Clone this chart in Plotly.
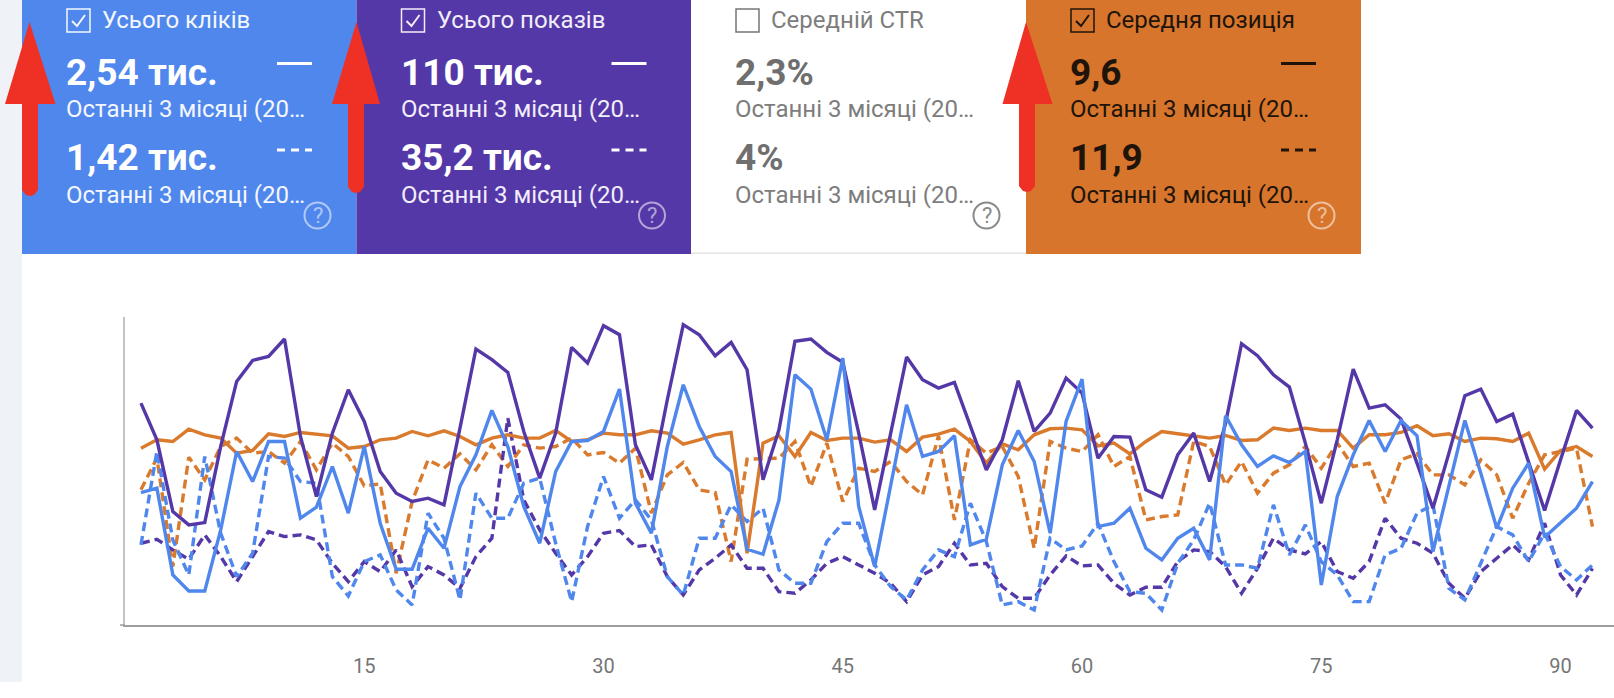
import plotly.graph_objects as go

days = list(range(1, 93))
clicks_current = [397,410,150,102,102,285,520,430,550,550,320,353,475,335,535,305,167,167,290,230,415,510,643,535,355,245,460,550,553,580,
707,365,275,535,720,595,505,460,227,212,375,750,707,555,800,355,175,415,660,505,520,567,240,257,480,583,490,275,610,737,
295,305,350,230,195,260,290,195,627,540,475,507,487,520,120,385,510,613,520,613,567,220,420,613,455,290,410,485,263,305,350,430]
clicks_previous = [240,520,255,150,505,275,145,215,505,500,430,425,145,87,190,210,105,60,335,260,75,395,320,320,425,440,245,70,295,445,
320,375,315,145,90,260,260,360,310,350,165,125,125,250,305,305,180,115,75,165,225,205,365,250,60,70,45,260,225,237,
305,190,100,95,45,185,255,365,180,180,170,360,210,300,190,150,70,70,210,230,335,360,110,75,185,295,270,190,275,175,135,180]
impressions_current = [665,555,340,300,307,535,730,793,805,857,565,385,575,705,610,460,395,370,380,360,590,827,795,757,580,440,575,832,785,897,
870,540,435,675,900,870,807,847,765,435,585,850,857,817,787,575,345,575,803,735,710,727,595,465,555,732,580,635,740,695,
500,565,563,405,383,510,575,430,605,843,807,750,713,545,365,555,767,650,660,617,485,350,515,687,707,610,632,485,343,495,643,590]
impressions_previous = [245,257,225,197,270,205,130,205,280,265,270,255,185,130,190,160,225,115,175,150,110,205,260,620,375,285,215,150,205,275,
283,235,240,145,90,165,200,240,170,170,100,95,135,185,205,180,155,125,70,150,175,245,180,185,115,80,80,150,207,177,
180,125,90,113,113,190,225,220,175,95,170,260,225,213,250,160,140,190,320,260,245,215,125,80,160,200,240,195,305,150,90,170]
position_current = [530,555,550,587,570,560,515,523,573,565,577,572,567,530,535,555,560,580,567,582,565,540,560,570,560,560,583,550,555,575,
570,570,582,575,542,555,570,577,215,545,567,505,577,553,560,560,548,555,520,563,572,587,550,485,543,525,570,588,590,585,
537,545,513,550,580,573,567,560,568,553,555,590,583,590,583,583,530,570,570,577,597,567,573,550,560,558,550,575,467,523,535,505]
position_previous = [405,500,175,503,435,535,560,515,520,485,550,465,545,505,417,423,155,370,495,470,513,465,540,475,540,530,535,560,510,517,
485,530,335,450,487,405,397,190,497,499,500,550,415,545,370,470,460,490,430,390,567,315,555,515,535,445,230,550,530,520,
570,475,505,315,325,330,550,535,420,490,395,455,480,535,470,545,475,485,365,495,513,450,450,420,495,450,320,425,510,520,530,295]
tick_days = [15, 30, 45, 60, 75, 90]

panel_titles = ["Усього кліків", "Усього показів", "Середній CTR", "Середня позиція"]
panel_now = ["2,54 тис.", "110 тис.", "2,3%", "9,6"]
panel_before = ["1,42 тис.", "35,2 тис.", "4%", "11,9"]
period_label = "Останні 3 місяці (20…"

W, H = 1614, 698
PL, PR, PT, PB = 125, 1614, 317, 625
BLUE, PURPLE, ORANGE = "#5087ec", "#5538a7", "#d97a2d"
RED = "#ee3124"

def fx(x):
    return (x - PL) / (PR - PL)

def fy(y):
    return (PB - y) / (PB - PT)

shapes, annotations = [], []

def rect(x0, y0, x1, y1, fill, line=None, lw=0):
    shapes.append(dict(type="rect", xref="paper", yref="paper", x0=fx(x0), x1=fx(x1), y0=fy(y1), y1=fy(y0),
                       fillcolor=fill, line=dict(color=line or fill, width=lw), layer="below"))

def seg(x0, y0, x1, y1, color, w=2.5, dash="solid"):
    shapes.append(dict(type="line", xref="paper", yref="paper", x0=fx(x0), x1=fx(x1), y0=fy(y0), y1=fy(y1),
                       line=dict(color=color, width=w, dash=dash), layer="above"))

def poly(pts, fill=None, line=None, w=0):
    d = "M " + " L ".join(f"{fx(x):.5f},{fy(y):.5f}" for x, y in pts)
    if fill:
        d += " Z"
    shapes.append(dict(type="path", xref="paper", yref="paper", path=d,
                       fillcolor=fill or "rgba(0,0,0,0)", line=dict(color=line or "rgba(0,0,0,0)", width=w), layer="above"))

def label(x, y, text, size, color, bold=False, anchor="left"):
    annotations.append(dict(xref="paper", yref="paper", x=fx(x), y=fy(y), text=f"<b>{text}</b>" if bold else text,
                            showarrow=False, xanchor=anchor, yanchor="middle",
                            font=dict(family="Roboto", size=size, color=color), borderpad=0, borderwidth=0))

rect(0, 0, 22, 682, "#eff3f8")

panels = [
    (22, 356.5, BLUE, "#f4f7fe", "#ffffff", True),
    (356.5, 691, PURPLE, "#f1eef9", "#ffffff", True),
    (691, 1026, "#ffffff", "#7d7d7d", "#6f6f6f", False),
    (1026, 1361, "#d8752c", "#20140a", "#20140a", True),
]
for i, (x0, x1, fill, text_c, val_c, on) in enumerate(panels):
    rect(x0, 0, x1, 254, fill)
    tx = x0 + 45
    box_c = text_c if on else "#757575"
    shapes.append(dict(type="rect", xref="paper", yref="paper", x0=fx(tx), x1=fx(tx + 23), y0=fy(32), y1=fy(9),
                       line=dict(color=box_c, width=1.5), fillcolor="rgba(0,0,0,0)", layer="above"))
    if on:
        poly([(tx + 5, 21), (tx + 10, 26), (tx + 18, 15)], line=box_c, w=2)
    label(tx + 35, 19.5, panel_titles[i], 24, text_c)
    label(tx - 1, 72.5, panel_now[i], 37, val_c, bold=True)
    label(tx - 1, 109, period_label, 24, text_c)
    label(tx - 1, 157.5, panel_before[i], 37, val_c, bold=True)
    label(tx - 1, 194.5, period_label, 24, text_c)
    if on:
        seg(x0 + 255, 63.5, x0 + 290, 63.5, val_c, 3)
        seg(x0 + 255, 150, x0 + 290, 150, val_c, 3, "8px,6px")
    qx, qy = x0 + 295.5, 215.5
    q_c = "rgba(255,255,255,0.55)" if on else "#8a8a8a"
    shapes.append(dict(type="circle", xref="paper", yref="paper", x0=fx(qx - 13), x1=fx(qx + 13), y0=fy(qy + 13), y1=fy(qy - 13),
                       line=dict(color=q_c, width=2), fillcolor="rgba(0,0,0,0)", layer="above"))
    label(qx, qy, "?", 22, q_c, anchor="center")

rect(691, 252.5, 1026, 254, "#e4e4e4")
seg(120, 625, 125, 625, "#9e9e9e", 1.5)

for ax, tip_y, base_l, base_r, sh_l, sh_r, base_y, bottom in [
    (29.5, 22, 5, 55.5, 22, 38, 104, 196),
    (356.5, 22, 332, 380, 348, 364, 104, 193),
    (1026, 22, 1002.5, 1052.5, 1019, 1035, 104, 192),
]:
    poly([(ax, tip_y), (base_r, base_y), (sh_r, base_y), (sh_r, bottom - 6), ((sh_l + sh_r) / 2 + 4, bottom - 1),
          ((sh_l + sh_r) / 2, bottom), ((sh_l + sh_r) / 2 - 4, bottom - 1), (sh_l, bottom - 6), (sh_l, base_y), (base_l, base_y)], fill=RED)

fig = go.Figure()
series = [
    (position_previous, ORANGE, "9px,5px"),
    (impressions_previous, PURPLE, "9px,5px"),
    (clicks_previous, BLUE, "9px,5px"),
    (position_current, ORANGE, "solid"),
    (impressions_current, PURPLE, "solid"),
    (clicks_current, BLUE, "solid"),
]
for values, color, dash in series:
    fig.add_trace(go.Scatter(x=days, y=values, mode="lines", line=dict(color=color, width=3.4, dash=dash), hoverinfo="skip"))

fig.update_layout(
    width=W, height=H, showlegend=False, paper_bgcolor="#ffffff", plot_bgcolor="#ffffff",
    margin=dict(l=PL, r=W - PR, t=PT, b=H - PB, pad=0),
    shapes=shapes, annotations=annotations,
    xaxis=dict(range=[0, 93.35], tickvals=tick_days, showgrid=False, zeroline=False, showline=True, linecolor="#9e9e9e", linewidth=1.5,
               ticks="outside", ticklen=22, tickcolor="rgba(0,0,0,0)", tickfont=dict(family="Roboto", size=20, color="#757575")),
    yaxis=dict(range=[0, 923], showticklabels=False, showgrid=False, zeroline=False, showline=True, linecolor="#c4c4c4", linewidth=2, ticks=""),
)
assert all(len(s[0]) == 92 for s in series)
fig.write_html("out.html", config=dict(displayModeBar=False), post_script="document.body.style.margin='0';document.body.style.overflow='hidden';")
